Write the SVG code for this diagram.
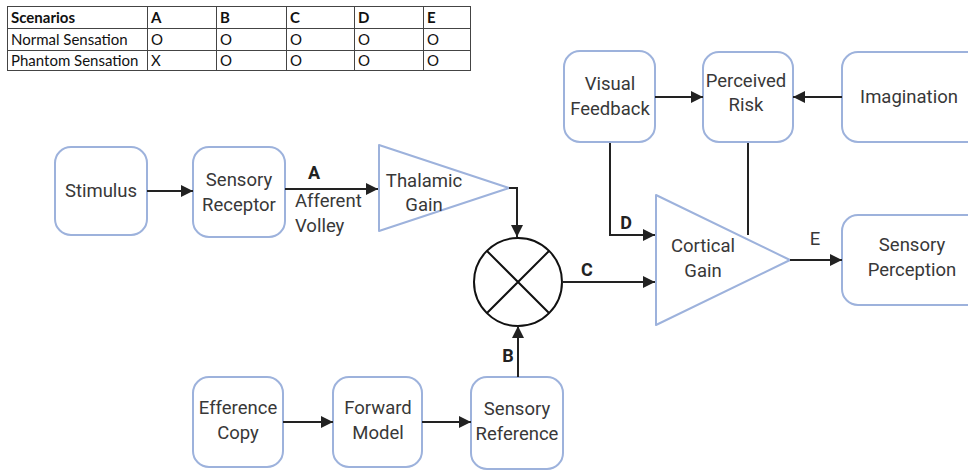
<svg xmlns="http://www.w3.org/2000/svg" width="968" height="471" viewBox="0 0 968 471">
  <defs>
    <marker id="arrow" viewBox="0 0 10 10" refX="10" refY="5" markerWidth="12" markerHeight="12" markerUnits="userSpaceOnUse" orient="auto">
      <path d="M0,0 L10,5 L0,10 z" fill="#222"/>
    </marker>
    <style>
      .box { fill: #fff; stroke: #9db2dc; stroke-width: 2; }
      .tri { fill: #fff; stroke: #9db2dc; stroke-width: 2; stroke-linejoin: round; }
      .lbl { font-family: Roboto, "Liberation Sans", sans-serif; font-size: 18.5px; fill: #383838; text-anchor: middle; }
      .lbl.start { text-anchor: start; }
      .key { font-family: Roboto, "Liberation Sans", sans-serif; font-size: 18px; fill: #222; font-weight: bold; text-anchor: middle; }
      .edge { fill: none; stroke: #222; stroke-width: 2; }
      .arr { marker-end: url(#arrow); }
      .grid { stroke: #444; stroke-width: 1; fill: none; }
      .cell { font-family: Lato, "Liberation Sans", sans-serif; font-size: 15px; fill: #111; }
      .head { font-weight: bold; }
    </style>
  </defs>

  <!-- scenario table -->
  <g id="table">
    <rect x="7.5" y="6.5" width="463" height="64" fill="#fff" stroke="#444"/>
    <path class="grid" d="M7.5,28.5 H470.5 M7.5,50.5 H470.5 M147.5,6.5 V70.5 M216.5,6.5 V70.5 M286.5,6.5 V70.5 M354.5,6.5 V70.5 M423.5,6.5 V70.5"/>
    <text class="cell head" x="11" y="23">Scenarios</text>
    <text class="cell head" x="151" y="23">A</text>
    <text class="cell head" x="220" y="23">B</text>
    <text class="cell head" x="290" y="23">C</text>
    <text class="cell head" x="358" y="23">D</text>
    <text class="cell head" x="427" y="23">E</text>
    <text class="cell" x="11" y="45">Normal Sensation</text>
    <text class="cell" x="151" y="45">O</text>
    <text class="cell" x="220" y="45">O</text>
    <text class="cell" x="290" y="45">O</text>
    <text class="cell" x="358" y="45">O</text>
    <text class="cell" x="427" y="45">O</text>
    <text class="cell" x="11" y="66">Phantom Sensation</text>
    <text class="cell" x="151" y="66">X</text>
    <text class="cell" x="220" y="66">O</text>
    <text class="cell" x="290" y="66">O</text>
    <text class="cell" x="358" y="66">O</text>
    <text class="cell" x="427" y="66">O</text>
  </g>

  <g id="stimulus">
    <rect class="box" x="55" y="147" width="92" height="88" rx="16"/>
    <text class="lbl" x="101" y="197">Stimulus</text>
  </g>

  <g id="sensory-receptor">
    <rect class="box" x="193" y="147" width="92" height="90" rx="16"/>
    <text class="lbl" x="239" y="186">Sensory</text>
    <text class="lbl" x="239" y="211">Receptor</text>
  </g>

  <g id="thalamic-gain">
    <polygon class="tri" points="379,145 509,188 379,231"/>
    <text class="lbl" x="424" y="187">Thalamic</text>
    <text class="lbl" x="424" y="211">Gain</text>
  </g>

  <g id="multiplier">
    <circle cx="518" cy="282" r="44" fill="#fff" stroke="#111" stroke-width="2"/>
    <path d="M487,251 L549,313 M549,251 L487,313" stroke="#111" stroke-width="2"/>
  </g>

  <g id="cortical-gain">
    <polygon class="tri" points="656,195 790,260 656,325"/>
    <text class="lbl" x="703" y="252">Cortical</text>
    <text class="lbl" x="703" y="277">Gain</text>
  </g>

  <g id="visual-feedback">
    <rect class="box" x="564" y="51" width="91" height="91" rx="16"/>
    <text class="lbl" x="610" y="90">Visual</text>
    <text class="lbl" x="610" y="115">Feedback</text>
  </g>

  <g id="perceived-risk">
    <rect class="box" x="703" y="52" width="90" height="90" rx="16"/>
    <text class="lbl" x="746" y="87">Perceived</text>
    <text class="lbl" x="746" y="111">Risk</text>
  </g>

  <g id="imagination">
    <rect class="box" x="842" y="52" width="140" height="90" rx="16"/>
    <text class="lbl" x="909" y="103">Imagination</text>
  </g>

  <g id="sensory-perception">
    <rect class="box" x="842" y="215" width="140" height="90" rx="16"/>
    <text class="lbl" x="912" y="251">Sensory</text>
    <text class="lbl" x="912" y="276">Perception</text>
  </g>

  <g id="efference-copy">
    <rect class="box" x="193" y="377" width="90" height="90" rx="16"/>
    <text class="lbl" x="238" y="414">Efference</text>
    <text class="lbl" x="238" y="439">Copy</text>
  </g>

  <g id="forward-model">
    <rect class="box" x="333" y="377" width="89" height="90" rx="16"/>
    <text class="lbl" x="378" y="414">Forward</text>
    <text class="lbl" x="378" y="439">Model</text>
  </g>

  <g id="sensory-reference">
    <rect class="box" x="471" y="377" width="92" height="92" rx="16"/>
    <text class="lbl" x="517" y="415">Sensory</text>
    <text class="lbl" x="517" y="440">Reference</text>
  </g>

  <!-- connectors and their labels, drawn above the nodes -->
  <g id="connectors">
    <line class="edge arr" x1="147" y1="191" x2="193" y2="191"/>
    <line class="edge arr" x1="285" y1="189" x2="378" y2="189"/>
    <polyline class="edge arr" points="509,188 517,188 517,237"/>
    <line class="edge arr" x1="518" y1="377" x2="518" y2="326"/>
    <line class="edge arr" x1="562" y1="282" x2="655" y2="282"/>
    <polyline class="edge arr" points="610,143 610,235 655,235"/>
    <line class="edge" x1="748" y1="143" x2="748" y2="235"/>
    <line class="edge arr" x1="655" y1="97" x2="703" y2="97"/>
    <line class="edge arr" x1="842" y1="97" x2="793" y2="97"/>
    <line class="edge arr" x1="790" y1="260" x2="842" y2="260"/>
    <line class="edge arr" x1="283" y1="422" x2="333" y2="422"/>
    <line class="edge arr" x1="422" y1="422" x2="471" y2="422"/>
    <text class="key" x="314" y="179">A</text>
    <text class="lbl start" x="295" y="207">Afferent</text>
    <text class="lbl start" x="295" y="232">Volley</text>
    <text class="key" x="508" y="362">B</text>
    <text class="key" x="587" y="276">C</text>
    <text class="key" x="626" y="229">D</text>
    <text class="lbl" x="815" y="245">E</text>
  </g>
</svg>
